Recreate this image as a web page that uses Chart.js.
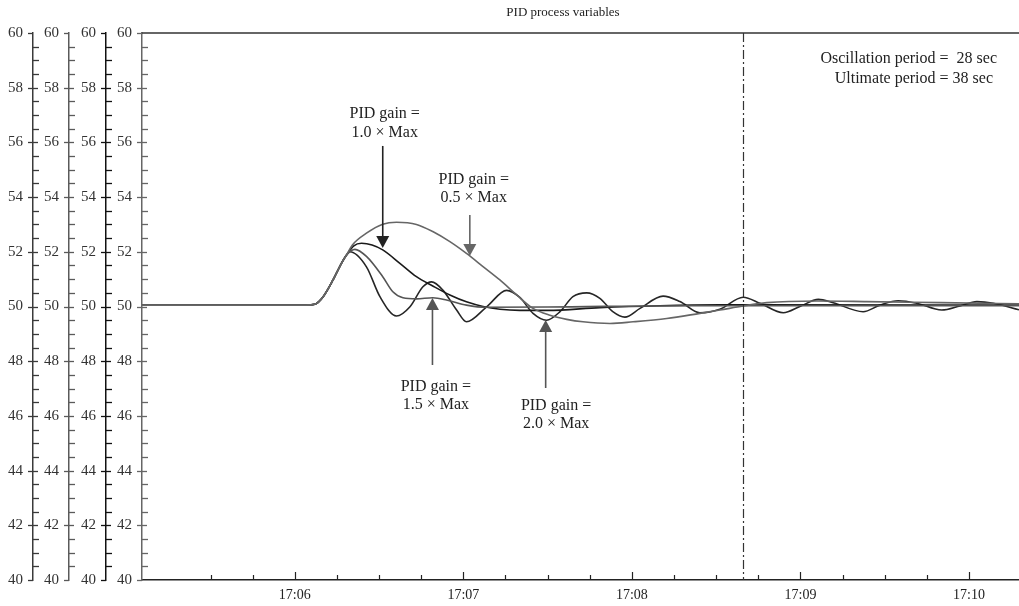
<!DOCTYPE html>
<html>
<head>
<meta charset="utf-8">
<script src="https://cdn.jsdelivr.net/npm/chart.js@4.4.0/dist/chart.umd.min.js"></script>
<style>
  html, body { margin: 0; padding: 0; background: #fff; }
  #wrap { width: 1019px; height: 606px; }
</style>
</head>
<body>
<div id="wrap"><canvas id="pidChart" width="1019" height="606"></canvas></div>
<script>
// x values are seconds after 17:00:00
var timeMin = 305.6;
var timeMax = 617.8;
var xTickSeconds = [360, 420, 480, 540, 600];
var xTickLabels = ['17:06', '17:07', '17:08', '17:09', '17:10'];
var yTickLabels = ['40', '42', '44', '46', '48', '50', '52', '54', '56', '58', '60'];
var markerTime = 519.7; // dash-dot line

// step response common to all four runs
var commonT = [305.6, 364, 367.1, 370.1, 373.6, 376.6, 378.4];
var commonV = [50.05, 50.05, 50.08, 50.36, 50.97, 51.58, 51.88];

// PID gain = 0.5 x Max
var t05 = [380.5, 385.5, 391.3, 396.2, 403.3, 409.1, 415.2, 421.1, 427.0, 433.0, 439.0, 444.8, 450.8, 456.8, 462.6, 472.2, 480.4, 492.4, 504.2, 511.3, 519.6, 528.0, 545.8, 563.6, 590, 617.8];
var v05 = [52.25, 52.68, 53.01, 53.08, 53.0, 52.74, 52.37, 51.94, 51.46, 50.97, 50.42, 49.93, 49.68, 49.53, 49.44, 49.38, 49.44, 49.56, 49.75, 49.87, 50.02, 50.14, 50.2, 50.18, 50.14, 50.1];

// PID gain = 1.0 x Max
var t10 = [381.0, 383.75, 387.5, 391.3, 397.4, 403.3, 409.1, 415.2, 421.1, 427.0, 433.0, 440.1, 450, 468.6, 490, 511.3, 617.8];
var v10 = [52.22, 52.31, 52.25, 52.07, 51.58, 51.09, 50.75, 50.42, 50.17, 50.0, 49.9, 49.86, 49.86, 49.96, 50.03, 50.06, 50.05];

// PID gain = 1.5 x Max
var t15 = [381.4, 385.5, 391.3, 394.9, 398.5, 403.3, 409.1, 414.0, 421.1, 428.3, 450, 500, 617.8];
var v15 = [52.09, 51.83, 51.09, 50.54, 50.32, 50.28, 50.32, 50.24, 50.05, 49.97, 49.98, 50.03, 50.03];

// PID gain = 2.0 x Max
var t20 = [379.6, 385.5, 390.3, 396.2, 401.0, 405.6, 408.7, 412.7, 417.6, 421.1, 428.3, 435.4, 440.1, 444.8, 449.6, 454.4, 459.0, 463.9, 468.6, 473.2, 477.5, 482.9, 491.1, 497.1, 504.2, 511.3, 519.6, 525.6, 533.9, 539.8, 546.4, 551.6, 562.3, 568.3, 574.8, 581.4, 590.3, 596.8, 602.8, 608.7, 617.8];
var v20 = [52.0, 51.45, 50.36, 49.65, 49.99, 50.72, 50.9, 50.6, 49.87, 49.44, 49.99, 50.59, 50.33, 49.75, 49.5, 49.81, 50.36, 50.5, 50.3, 49.81, 49.61, 49.93, 50.38, 50.18, 49.77, 49.9, 50.34, 50.12, 49.77, 50.0, 50.26, 50.14, 49.81, 50.05, 50.21, 50.12, 49.87, 50.02, 50.18, 50.12, 49.88];

// arrow callouts, in data units: line x, tail y, tip y, label x, label rows y
var calloutNames = ['1.0', '0.5', '1.5', '2.0'];
var calloutX = [391.3, 422.3, 409.0, 449.3];
var calloutTail = [55.87, 53.35, 47.86, 47.02];
var calloutTip = [52.14, 51.85, 50.31, 49.51];
var calloutLabelX = [392.0, 423.7, 410.2, 453.0];
var calloutLabelY1 = [57.04, 54.63, 47.07, 46.36];
var calloutLabelY2 = [56.34, 53.97, 46.40, 45.70];
var calloutColors = ['#222', '#666', '#555', '#555'];

function toPoints(ts, vs) {
    var pts = [];
    commonT.forEach(function (t, i) { pts.push({ x: t, y: commonV[i] }); });
    ts.forEach(function (t, i) { pts.push({ x: t, y: vs[i] }); });
    return pts;
}

var serif = '"Liberation Serif", "Times New Roman", serif';
var yAxisIds = ['y0', 'y1', 'y2', 'y3'];
var yAxisWidths = [33, 36, 37, 36];
var yAxisColors = ['#3a3a3a', '#5a5a5a', '#111', '#666'];

function isMajorY(v) {
    return Math.abs(v / 2 - Math.round(v / 2)) < 1e-6;
}

var scales = {
    x: {
        type: 'linear',
        position: 'bottom',
        min: timeMin,
        max: timeMax,
        // invisible tick length gives the label gap (ticks.padding would also pad the right edge)
        grid: { display: true, drawOnChartArea: false, drawTicks: true, tickLength: 7, color: 'transparent' },
        border: { display: true, color: '#222', width: 1.5 },
        ticks: {
            stepSize: 15,
            autoSkip: false,
            maxRotation: 0,
            padding: 0,
            color: '#222',
            font: { family: serif, size: 14 },
            callback: function (value) {
                var s = Math.round(value);
                if (Math.abs(value - s) > 0.01) return '';
                var i = xTickSeconds.indexOf(s);
                return i >= 0 ? xTickLabels[i] : '';
            }
        },
        afterFit: function (scale) { scale.height = 26; }
    }
};

yAxisIds.forEach(function (id, k) {
    scales[id] = {
        type: 'linear',
        position: 'left',
        weight: 4 - k,
        min: 40,
        max: 60,
        grid: { display: true, drawOnChartArea: false, drawTicks: true, tickLength: 5, color: 'transparent' },
        border: { display: true, color: yAxisColors[k], width: 1.5 },
        ticks: {
            stepSize: 0.5,
            autoSkip: false,
            padding: 5,
            color: '#333',
            font: { family: serif, size: 15 },
            callback: function (value) {
                if (!isMajorY(value)) return '';
                var i = yTickLabels.indexOf(String(Math.round(value)));
                return i >= 0 ? yTickLabels[i] : '';
            }
        },
        afterFit: function (scale) { scale.width = yAxisWidths[k]; }
    };
});

var decorPlugin = {
    id: 'decor',
    afterDatasetsDraw: function (chart) {
        var ctx = chart.ctx;
        var xs = chart.scales.x, ys = chart.scales.y3;
        var area = chart.chartArea;
        ctx.save();

        // dash-dot marker
        var mx = Math.round(xs.getPixelForValue(markerTime)) + 0.5;
        ctx.strokeStyle = '#333';
        ctx.lineWidth = 1.2;
        ctx.setLineDash([9, 3, 2, 3]);
        ctx.beginPath();
        ctx.moveTo(mx, area.top);
        ctx.lineTo(mx, area.bottom);
        ctx.stroke();
        ctx.setLineDash([]);

        // callout arrows with labels
        calloutNames.forEach(function (name, i) {
            var x = xs.getPixelForValue(calloutX[i]);
            var yTail = ys.getPixelForValue(calloutTail[i]);
            var yTip = ys.getPixelForValue(calloutTip[i]);
            var dir = yTip > yTail ? 1 : -1;
            ctx.strokeStyle = calloutColors[i];
            ctx.fillStyle = calloutColors[i];
            ctx.lineWidth = 1.6;
            ctx.beginPath();
            ctx.moveTo(x, yTail);
            ctx.lineTo(x, yTip - dir * 9);
            ctx.stroke();
            ctx.beginPath();
            ctx.moveTo(x, yTip);
            ctx.lineTo(x - 6.5, yTip - dir * 12);
            ctx.lineTo(x + 6.5, yTip - dir * 12);
            ctx.closePath();
            ctx.fill();

            var lx = xs.getPixelForValue(calloutLabelX[i]);
            ctx.fillStyle = '#222';
            ctx.font = '16px ' + serif;
            ctx.textAlign = 'center';
            ctx.textBaseline = 'middle';
            ctx.fillText('PID gain =', lx, ys.getPixelForValue(calloutLabelY1[i]));
            ctx.fillText(name + ' \u00d7 Max', lx, ys.getPixelForValue(calloutLabelY2[i]));
        });
        ctx.restore();
    },
    afterDraw: function (chart) {
        var ctx = chart.ctx;
        var area = chart.chartArea;
        var xs = chart.scales.x;
        ctx.save();

        // frame top line
        ctx.strokeStyle = '#333';
        ctx.lineWidth = 1.5;
        ctx.beginPath();
        ctx.moveTo(area.left, area.top);
        ctx.lineTo(area.right, area.top);
        ctx.stroke();

        // x tick marks pointing up into the plot
        ctx.strokeStyle = '#222';
        ctx.lineWidth = 1.2;
        xs.ticks.forEach(function (t) {
            var s = Math.round(t.value);
            if (Math.abs(t.value - s) > 0.01 || s % 15 !== 0) return;
            var px = Math.round(xs.getPixelForValue(s)) + 0.5;
            var len = s % 60 === 0 ? 8 : 5;
            ctx.beginPath();
            ctx.moveTo(px, area.bottom);
            ctx.lineTo(px, area.bottom - len);
            ctx.stroke();
        });

        // y tick marks: majors cross the axis line, minors sit to its right
        yAxisIds.forEach(function (id, k) {
            var sc = chart.scales[id];
            var ax = sc.right;
            ctx.strokeStyle = yAxisColors[k];
            ctx.lineWidth = 1.3;
            sc.ticks.forEach(function (t) {
                var py = Math.round(sc.getPixelForValue(t.value)) + 0.5;
                ctx.beginPath();
                if (isMajorY(t.value)) {
                    var edge = (t.value >= 60 || t.value <= 40);
                    ctx.moveTo(ax - 5, py);
                    ctx.lineTo(edge ? ax : ax + 5, py);
                } else {
                    ctx.moveTo(ax, py);
                    ctx.lineTo(ax + 6, py);
                }
                ctx.stroke();
            });
        });

        // title and period notes
        ctx.fillStyle = '#222';
        ctx.font = '13px ' + serif;
        ctx.textAlign = 'center';
        ctx.textBaseline = 'middle';
        ctx.fillText('PID process variables', 563, 13);

        ctx.font = '16px ' + serif;
        ctx.textAlign = 'right';
        ctx.fillText('Oscillation period =  28 sec', area.right - 22, 59);
        ctx.fillText('Ultimate period = 38 sec', area.right - 26, 79);
        ctx.restore();
    }
};

var ctx = document.getElementById('pidChart').getContext('2d');
var pidChart = new Chart(ctx, {
    type: 'line',
    data: {
        datasets: [
            { label: '0.5 x Max', data: toPoints(t05, v05), yAxisID: 'y3', borderColor: '#666', borderWidth: 1.6 },
            { label: '1.5 x Max', data: toPoints(t15, v15), yAxisID: 'y3', borderColor: '#555', borderWidth: 1.6 },
            { label: '1.0 x Max', data: toPoints(t10, v10), yAxisID: 'y3', borderColor: '#1a1a1a', borderWidth: 1.6 },
            { label: '2.0 x Max', data: toPoints(t20, v20), yAxisID: 'y3', borderColor: '#262626', borderWidth: 1.6 }
        ]
    },
    options: {
        responsive: false,
        animation: false,
        events: [],
        layout: { autoPadding: false, padding: { top: 33, right: 0, bottom: 0, left: 0 } },
        elements: {
            point: { radius: 0, hoverRadius: 0, hitRadius: 0 },
            line: { cubicInterpolationMode: 'monotone', fill: false }
        },
        scales: scales,
        plugins: {
            legend: { display: false },
            title: { display: false },
            tooltip: { enabled: false }
        }
    },
    plugins: [decorPlugin]
});
</script>
</body>
</html>
